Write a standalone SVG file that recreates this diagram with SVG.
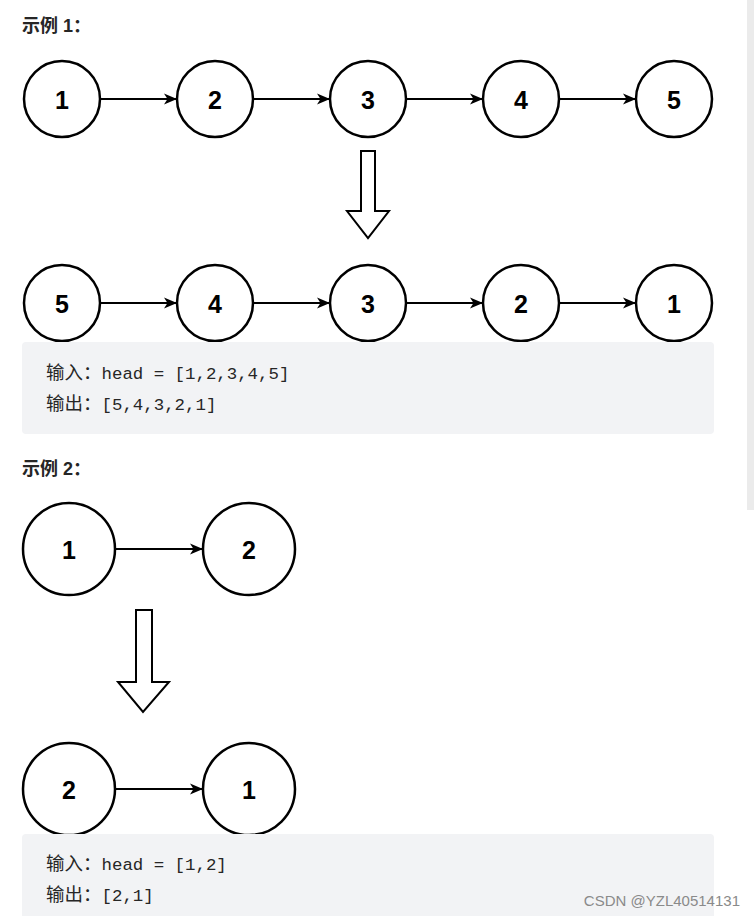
<svg xmlns="http://www.w3.org/2000/svg" width="754" height="916" viewBox="0 0 754 916">
<defs>
<style>
.n circle{fill:#fff;stroke:#000;stroke-width:2.5}
.n text{font-family:"Liberation Sans",Arial,sans-serif;font-weight:bold;font-size:25px;fill:#000;text-anchor:middle;dominant-baseline:central}
.e{stroke:#000;stroke-width:2;fill:none;marker-end:url(#ah)}
.big{fill:#fff;stroke:#000;stroke-width:2;stroke-linejoin:miter}
.title{font-family:"Liberation Sans","Noto Sans CJK SC",sans-serif;font-weight:bold;font-size:18px;fill:#262626}
.code{font-family:"Liberation Mono","Noto Sans CJK SC",monospace;font-size:17.4px;fill:#262626}
.cjk{font-family:"Noto Sans CJK SC",sans-serif;font-size:18.5px}
.box{fill:#f2f3f5}
</style>
<marker id="ah" markerWidth="14" markerHeight="12" refX="13" refY="6" orient="auto" markerUnits="userSpaceOnUse">
<path d="M0,0.5 L13,6 L0,11.5 L3.5,6 Z" fill="#000"/>
</marker>
</defs>
<rect x="0" y="0" width="754" height="916" fill="#fff"/>
<rect x="747" y="0" width="7" height="510" fill="#ebebeb"/>

<text class="title" x="22" y="32">示例 1<tspan font-family="Noto Sans CJK SC">：</tspan></text>

<g id="connectors">
<line class="e" x1="100" y1="99" x2="177" y2="99"/>
<line class="e" x1="253" y1="99" x2="330" y2="99"/>
<line class="e" x1="406" y1="99" x2="483" y2="99"/>
<line class="e" x1="559" y1="99" x2="636" y2="99"/>
<line class="e" x1="100" y1="303" x2="177" y2="303"/>
<line class="e" x1="253" y1="303" x2="330" y2="303"/>
<line class="e" x1="406" y1="303" x2="483" y2="303"/>
<line class="e" x1="559" y1="303" x2="636" y2="303"/>
<line class="e" x1="115" y1="549" x2="203" y2="549"/>
<line class="e" x1="115" y1="789" x2="203" y2="789"/>
</g>

<g id="r1n1" class="n"><circle cx="62" cy="99" r="38"/><text x="62" y="100">1</text></g>
<g id="r1n2" class="n"><circle cx="215" cy="99" r="38"/><text x="215" y="100">2</text></g>
<g id="r1n3" class="n"><circle cx="368" cy="99" r="38"/><text x="368" y="100">3</text></g>
<g id="r1n4" class="n"><circle cx="521" cy="99" r="38"/><text x="521" y="100">4</text></g>
<g id="r1n5" class="n"><circle cx="674" cy="99" r="38"/><text x="674" y="100">5</text></g>

<g id="down1"><path class="big" d="M361,151 L375,151 L375,211 L389,211 L368,238 L347,211 L361,211 Z"/></g>

<g id="r2n1" class="n"><circle cx="62" cy="303" r="38"/><text x="62" y="304">5</text></g>
<g id="r2n2" class="n"><circle cx="215" cy="303" r="38"/><text x="215" y="304">4</text></g>
<g id="r2n3" class="n"><circle cx="368" cy="303" r="38"/><text x="368" y="304">3</text></g>
<g id="r2n4" class="n"><circle cx="521" cy="303" r="38"/><text x="521" y="304">2</text></g>
<g id="r2n5" class="n"><circle cx="674" cy="303" r="38"/><text x="674" y="304">1</text></g>

<rect class="box" x="22" y="342" width="692" height="92" rx="4"/>
<text class="code" x="46" y="379"><tspan class="cjk">输入：</tspan>head = [1,2,3,4,5]</text>
<text class="code" x="46" y="410"><tspan class="cjk">输出：</tspan>[5,4,3,2,1]</text>

<text class="title" x="22" y="475">示例 2<tspan font-family="Noto Sans CJK SC">：</tspan></text>

<g id="r3n1" class="n"><circle cx="69" cy="549" r="46"/><text x="69" y="550">1</text></g>
<g id="r3n2" class="n"><circle cx="249" cy="549" r="46"/><text x="249" y="550">2</text></g>

<g id="down2"><path class="big" d="M136,610 L152,610 L152,682 L169,682 L143,712 L118,682 L136,682 Z"/></g>

<g id="r4n1" class="n"><circle cx="69" cy="789" r="46"/><text x="69" y="790">2</text></g>
<g id="r4n2" class="n"><circle cx="249" cy="789" r="46"/><text x="249" y="790">1</text></g>

<rect class="box" x="22" y="834" width="692" height="90" rx="4"/>
<text class="code" x="46" y="870"><tspan class="cjk">输入：</tspan>head = [1,2]</text>
<text class="code" x="46" y="901"><tspan class="cjk">输出：</tspan>[2,1]</text>
<text x="740" y="906" text-anchor="end" font-family="'Liberation Sans Narrow','Liberation Sans',sans-serif" font-size="15" fill="#8a8a8a">CSDN @YZL40514131</text>
</svg>
